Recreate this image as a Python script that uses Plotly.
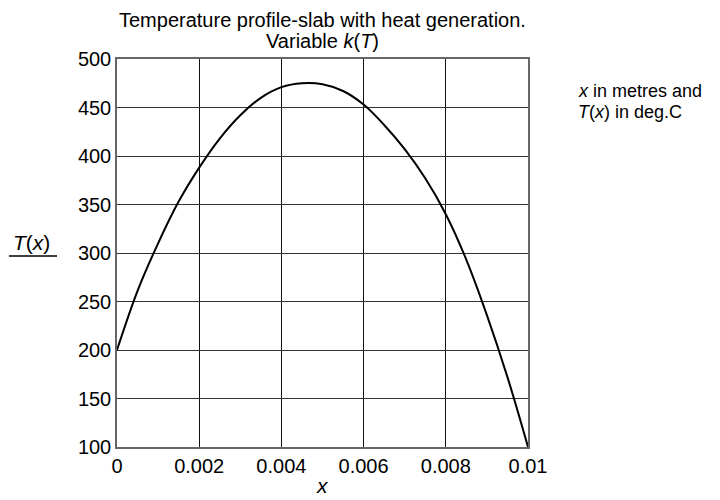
import plotly.graph_objects as go

# Data
x_m = [0, 0.0005, 0.001, 0.0015, 0.002, 0.0025, 0.003, 0.0035, 0.004, 0.0045,
       0.005, 0.0055, 0.006, 0.0065, 0.007, 0.0075, 0.008, 0.0085, 0.009, 0.0095, 0.01]
T_c = [200, 261, 310, 353, 388, 418, 442, 460, 471, 475,
       474, 467, 453, 432, 407, 377, 340, 293, 236, 172, 100]

x_ticks = [0, 0.002, 0.004, 0.006, 0.008, 0.01]
x_tick_labels = ["0", "0.002", "0.004", "0.006", "0.008", "0.01"]
y_ticks = [100, 150, 200, 250, 300, 350, 400, 450, 500]

FONT = "Liberation Sans, Arial, Helvetica, sans-serif"

fig = go.Figure()
fig.add_trace(go.Scatter(x=x_m, y=T_c, mode="lines",
                         line=dict(color="black", width=2, shape="spline", smoothing=1.0),
                         showlegend=False, hoverinfo="skip"))

fig.update_layout(
    width=712, height=492,
    paper_bgcolor="white", plot_bgcolor="white",
    margin=dict(l=109, r=192, t=51, b=53, autoexpand=False),
    font=dict(family=FONT, size=20, color="black"),
    xaxis=dict(range=[0, 0.01], tickvals=x_ticks, ticktext=x_tick_labels,
               showgrid=True, gridcolor="#111", gridwidth=1.3, zeroline=False,
               showline=True, linecolor="#666", linewidth=1.5, mirror=True, ticks="",
               tickfont=dict(size=20)),
    yaxis=dict(range=[100, 500], tickvals=y_ticks,
               showgrid=True, gridcolor="#333", gridwidth=1.3, zeroline=False,
               showline=True, linecolor="#666", linewidth=1.5, mirror=True, ticks="",
               tickfont=dict(size=20)),
)

# Title (two lines)
fig.add_annotation(text="Temperature profile-slab with heat generation.", xref="paper", yref="paper",
                   x=0.5, y=1.1005, xanchor="center", yanchor="middle", showarrow=False,
                   font=dict(size=20))
fig.add_annotation(text="Variable <i>k</i>(<i>T</i>)", xref="paper", yref="paper",
                   x=0.5, y=1.0464, xanchor="center", yanchor="middle", showarrow=False,
                   font=dict(size=20))

# x-axis title
fig.add_annotation(text="<i>x</i>", xref="paper", yref="paper", x=0.5, y=-0.098,
                   xanchor="center", yanchor="middle", showarrow=False, font=dict(size=21))

# y-axis label as fraction-like label
fig.add_annotation(text="<i>T</i>(<i>x</i>)", xref="paper", yref="paper", x=-0.209, y=0.526,
                   xanchor="center", yanchor="middle", showarrow=False, font=dict(size=21))
fig.add_shape(type="line", xref="paper", yref="paper", x0=-0.263, x1=-0.146, y0=0.492, y1=0.492,
              line=dict(color="black", width=1.5))

# side note
fig.add_annotation(text="<i>x</i> in metres and", xref="paper", yref="paper",
                   x=1.117, y=0.9175, xanchor="left", yanchor="middle", showarrow=False,
                   font=dict(size=18))
fig.add_annotation(text="<i>T</i>(<i>x</i>) in deg.C", xref="paper", yref="paper",
                   x=1.117, y=0.8634, xanchor="left", yanchor="middle", showarrow=False,
                   font=dict(size=18))

fig.write_html("out.html")
